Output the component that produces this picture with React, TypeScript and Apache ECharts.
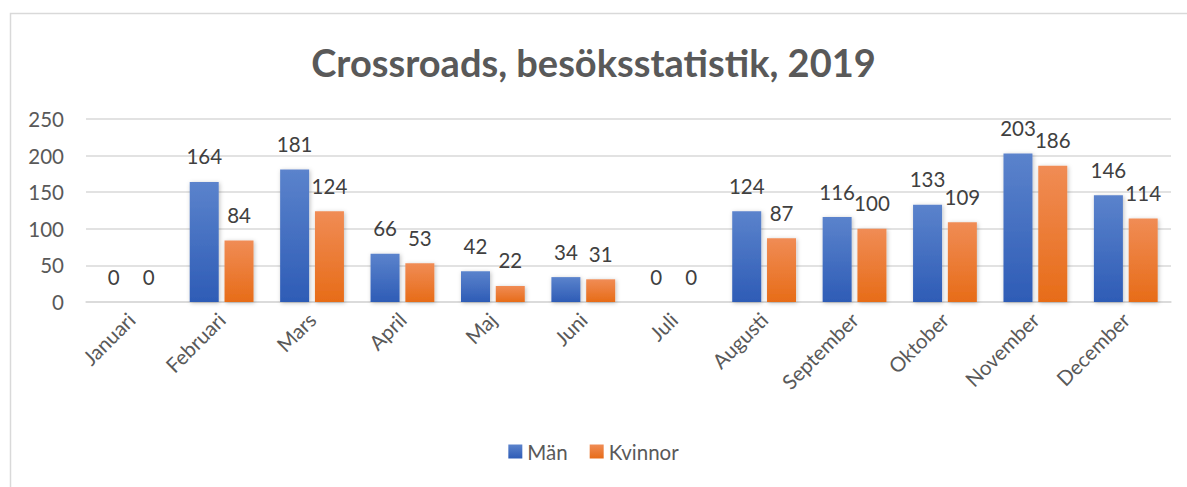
import React, { useEffect, useRef } from "react";
import * as echarts from "echarts";

const months = ["Januari", "Februari", "Mars", "April", "Maj", "Juni", "Juli", "Augusti", "September", "Oktober", "November", "December"];
const man = [0, 164, 181, 66, 42, 34, 0, 124, 116, 133, 203, 146];
const kvinnor = [0, 84, 124, 53, 22, 31, 0, 87, 100, 109, 186, 114];
const yTicks = [0, 50, 100, 150, 200, 250];

const FONT = "Lato, 'Open Sans', sans-serif";

export default function App() {
  const ref = useRef<HTMLDivElement>(null);
  useEffect(() => {
    document.body.style.margin = "0";
    const chart = echarts.init(ref.current!, null, { renderer: "svg" });
    const labelStyle = {
      show: true,
      position: "top" as const,
      distance: 15,
      fontSize: 20.5,
      color: "#404040",
      fontFamily: FONT,
    };
    chart.setOption({
      animation: false,
      backgroundColor: "#ffffff",
      graphic: [
        {
          type: "rect",
          shape: { x: 10.5, y: 13.5, width: 1200, height: 500 },
          style: { fill: "none", stroke: "#d9d9d9", lineWidth: 1.5 },
          silent: true,
        },
      ],
      title: {
        text: "Crossroads, besöksstatistik, 2019",
        left: "center",
        top: 38,
        textStyle: { fontSize: 38, fontWeight: "bold", color: "#595959", fontFamily: FONT },
      },
      legend: {
        bottom: 20,
        left: "center",
        itemWidth: 14,
        itemHeight: 14,
        itemGap: 22,
        icon: "rect",
        textStyle: { fontSize: 20.5, color: "#595959", fontFamily: FONT },
        data: ["Män", "Kvinnor"],
      },
      grid: { left: 86, right: 16, top: 119, bottom: 185 },
      xAxis: {
        type: "category",
        data: months,
        axisLine: { lineStyle: { color: "#d9d9d9", width: 1.5 } },
        axisTick: { show: false },
        axisLabel: { rotate: 45, fontSize: 20.5, color: "#595959", fontFamily: FONT, margin: 14 },
      },
      yAxis: {
        type: "value",
        min: yTicks[0],
        max: yTicks[yTicks.length - 1],
        interval: 50,
        axisLine: { show: false },
        axisTick: { show: false },
        splitLine: { lineStyle: { color: "#d9d9d9", width: 1.5 } },
        axisLabel: { fontSize: 20.5, color: "#595959", fontFamily: FONT, margin: 22 },
      },
      series: [
        {
          name: "Män",
          type: "bar",
          data: man,
          barWidth: 29,
          barGap: "20%",
          label: labelStyle,
          itemStyle: {
            color: new echarts.graphic.LinearGradient(0, 0, 0, 1, [
              { offset: 0, color: "#5b83cc" },
              { offset: 1, color: "#2e5cb6" },
            ]),
            shadowColor: "rgba(0,0,0,0.25)",
            shadowBlur: 4,
            shadowOffsetX: 1,
            shadowOffsetY: 1,
          },
        },
        {
          name: "Kvinnor",
          type: "bar",
          data: kvinnor,
          barWidth: 29,
          label: labelStyle,
          itemStyle: {
            color: new echarts.graphic.LinearGradient(0, 0, 0, 1, [
              { offset: 0, color: "#f08c55" },
              { offset: 1, color: "#e76c18" },
            ]),
            shadowColor: "rgba(0,0,0,0.25)",
            shadowBlur: 4,
            shadowOffsetX: 1,
            shadowOffsetY: 1,
          },
        },
      ],
    });
    return () => chart.dispose();
  }, []);
  return <div ref={ref} style={{ width: 1187, height: 487 }} />;
}
